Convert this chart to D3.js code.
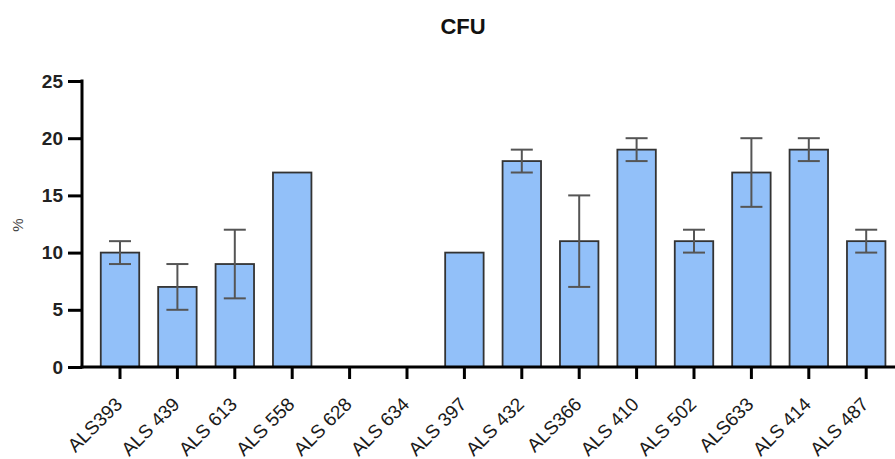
<!DOCTYPE html>
<html>
<head>
<meta charset="utf-8">
<script src="https://cdn.jsdelivr.net/npm/d3@7"></script>
<style>
  body { margin: 0; background: #fff; }
  svg { display: block; font-family: "Liberation Sans", Arial, sans-serif; }
</style>
</head>
<body>
<svg id="chart"></svg>
<script>
// values
const strains = ["ALS393", "ALS 439", "ALS 613", "ALS 558", "ALS 628", "ALS 634", "ALS 397",
                 "ALS 432", "ALS366", "ALS 410", "ALS 502", "ALS633", "ALS 414", "ALS 487"];
const means = [10, 7, 9, 17, 0, 0, 10, 18, 11, 19, 11, 17, 19, 11];
const errs  = [1, 2, 3, 0, 0, 0, 0, 1, 4, 1, 1, 3, 1, 1];
const yTicks = [0, 5, 10, 15, 20, 25];

const W = 895, H = 459;
const svg = d3.select("#chart").attr("width", W).attr("height", H);

// plot area
const x0 = 82, y0 = 367, yTop = 81;
const x = d3.scaleBand().domain(strains).range([91.3, 894.9]).paddingInner(0.33).paddingOuter(0.165);
const y = d3.scaleLinear().domain([0, 25]).range([y0, yTop]);

// bars
svg.append("g")
  .selectAll("rect")
  .data(strains)
  .join("rect")
  .attr("x", d => x(d))
  .attr("width", x.bandwidth())
  .attr("y", (d, i) => y(means[i]))
  .attr("height", (d, i) => y0 - y(means[i]))
  .attr("fill", "#92c0f9")
  .attr("stroke", "#333")
  .attr("stroke-width", 1.8)
  .style("display", (d, i) => means[i] > 0 ? null : "none");

// error bars
const eb = svg.append("g").attr("stroke", "#555").attr("stroke-width", 2).attr("fill", "none");
strains.forEach((s, i) => {
  if (!errs[i]) return;
  const cx = x(s) + x.bandwidth() / 2;
  const cap = 11;
  eb.append("line").attr("x1", cx).attr("x2", cx).attr("y1", y(means[i] - errs[i])).attr("y2", y(means[i] + errs[i]));
  eb.append("line").attr("x1", cx - cap).attr("x2", cx + cap).attr("y1", y(means[i] + errs[i])).attr("y2", y(means[i] + errs[i]));
  eb.append("line").attr("x1", cx - cap).attr("x2", cx + cap).attr("y1", y(means[i] - errs[i])).attr("y2", y(means[i] - errs[i]));
});

// y axis
const yAxis = svg.append("g")
  .attr("transform", `translate(${x0},0)`)
  .call(d3.axisLeft(y).tickValues(yTicks).tickSize(14).tickPadding(5));
yAxis.select(".domain").attr("stroke", "#000").attr("stroke-width", 3).attr("d", `M0,${y0 + 1.5}V${yTop - 1.5}`);
yAxis.selectAll(".tick line").attr("stroke", "#000").attr("stroke-width", 3);
yAxis.selectAll(".tick text").attr("font-size", 19).attr("font-weight", "bold").attr("fill", "#222")
  .attr("font-family", "Liberation Sans, Arial, sans-serif");

// x axis
const xAxis = svg.append("g")
  .attr("transform", `translate(0,${y0})`)
  .call(d3.axisBottom(x).tickSize(12).tickPadding(4));
xAxis.select(".domain").attr("stroke", "#000").attr("stroke-width", 3).attr("d", `M${x0 - 1.5},0H${W}`);
xAxis.selectAll(".tick line").attr("stroke", "#000").attr("stroke-width", 3);
xAxis.selectAll(".tick text")
  .attr("font-size", 19).attr("fill", "#1a1a1a")
  .attr("font-family", "Liberation Sans, Arial, sans-serif")
  .attr("text-anchor", "end")
  .attr("transform", "translate(-6,29) rotate(-45)")
  .attr("y", 0).attr("dy", "0.7em");

// title and y label
svg.append("text").attr("x", 463).attr("y", 34).attr("text-anchor", "middle")
  .attr("font-size", 22).attr("font-weight", "bold").attr("fill", "#111").text("CFU");
svg.append("text").attr("transform", "translate(23,225) rotate(-90)").attr("text-anchor", "middle")
  .attr("font-size", 15).attr("fill", "#444").text("%");
</script>
</body>
</html>
